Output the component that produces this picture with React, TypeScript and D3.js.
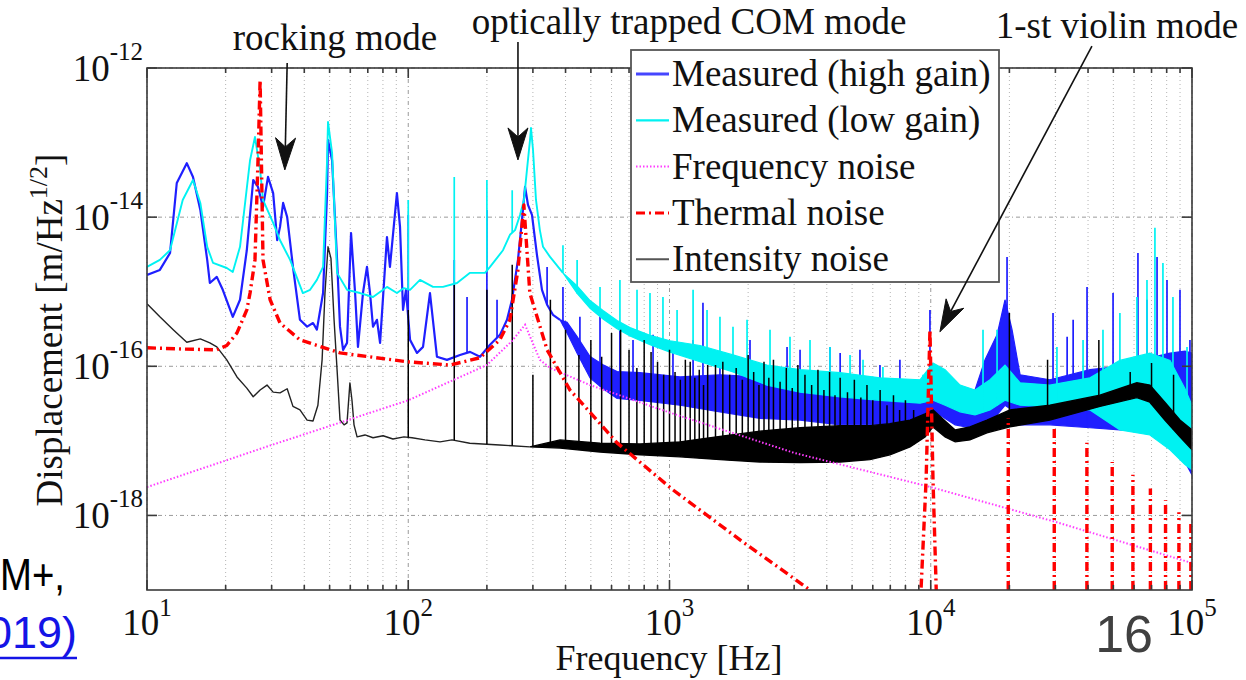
import React from "react";
import * as d3 from "d3";

type Pt = [number, number]; // [frequency Hz, displacement m/√Hz]
type Band = [number, number, number]; // [frequency Hz, lower, upper]
type Spike = [number, number]; // [frequency Hz, peak displacement]

// Axis ticks
const xTickExponents = [1, 2, 3, 4, 5];
const yTickExponents = [-12, -14, -16, -18];

const legendLabels = [
  "Measured (high gain)",
  "Measured (low gain)",
  "Frequency noise",
  "Thermal noise",
  "Intensity noise",
];

// Measured spectrum, high-gain readout
const highGainLine: Pt[] = [
  [10, 1.68e-15], [11.2, 1.96e-15], [12.25, 3.3e-15], [13, 2.87e-14], [14.2, 5.3e-14],
  [15, 3.46e-14], [16, 1.25e-14], [17, 2.67e-15], [17.4, 1.31e-15], [18.5, 1.58e-15],
  [19.5, 1.06e-15], [21.3, 4.6e-16], [22.7, 7.8e-16], [24.1, 3.6e-15], [25.5, 3.15e-14],
  [26.6, 2.54e-14], [27.8, 1.37e-14], [29.05, 3.46e-14], [30.4, 2.1e-14], [31.5, 4.9e-15],
  [32.3, 7.4e-15], [33.2, 1.55e-14], [34.4, 1.0e-14], [36.2, 2.15e-15], [38.5, 4.2e-16],
  [41, 3.4e-16], [43.2, 3.8e-16], [44.7, 3.1e-16], [47.2, 9.6e-16], [48.9, 2.1e-14],
  [49.3, 1.08e-13], [51.1, 5.8e-14], [53.4, 2.67e-15], [54.8, 3.4e-16], [56.3, 1.66e-16],
  [58.3, 2.06e-16], [60.4, 6.1e-15], [62.6, 9.6e-16], [64.2, 1.82e-16], [67.1, 9.6e-16],
  [69.5, 2.15e-15], [71.4, 9.6e-16], [73.3, 3.4e-16], [75.9, 4.2e-16], [78, 2.06e-16],
  [82.9, 5.4e-15], [85.1, 2.15e-15], [90.5, 2.1e-14], [93, 7.4e-15], [95.5, 5.7e-16],
  [98, 1.06e-15], [101.6, 2.26e-16], [108, 1.51e-16], [113.9, 1.82e-16], [121.1, 9.6e-16],
  [128.8, 1.34e-16], [140.7, 1.22e-16], [157.8, 1.42e-16], [172.4, 1.56e-16], [188.2, 1.34e-16],
  [205.6, 1.94e-16], [224.4, 2.64e-16], [238.8, 4.2e-16], [249.5, 7.8e-16], [263, 2.67e-15],
  [272.5, 9.2e-15], [280, 2.54e-14], [287.3, 1.46e-14], [297.6, 1.07e-14], [311, 3.1e-15],
  [325, 1.06e-15], [340, 6.7e-16], [358, 4.9e-16], [381, 4.2e-16],
];
const highGainBand: Band[] = [
  [381, 4.2e-16, 4.2e-16], [405.5, 2.8e-16, 3.9e-16], [443, 1.5e-16, 2.5e-16],
  [496.5, 7.0e-17, 1.35e-16], [556.6, 5.0e-17, 1.05e-16], [630, 3.7e-17, 8.5e-17],
  [771, 3.5e-17, 8.2e-17], [1097, 3.0e-17, 7.2e-17], [1560, 2.45e-17, 7.7e-17],
  [2220, 2.0e-17, 7.2e-17], [3160, 1.9e-17, 6.6e-17], [4500, 1.64e-17, 6.0e-17],
  [6390, 1.64e-17, 5.6e-17], [9100, 1.9e-17, 5.3e-17], [10380, 2.45e-17, 4.5e-17],
  [11350, 2.0e-17, 4.1e-17], [12400, 1.64e-17, 3.5e-17], [14130, 1.5e-17, 3.0e-17],
  [16140, 1.64e-17, 1.22e-16], [17940, 2.23e-17, 2.64e-16], [19240, 3.0e-17, 7.8e-16],
  [20470, 2.6e-17, 3.1e-16], [21980, 1.64e-17, 7.7e-17], [28580, 1.64e-17, 6.6e-17],
  [40700, 1.5e-17, 9.0e-17], [52970, 1.4e-17, 1.0e-16], [69000, 1.32e-17, 1.3e-16],
  [82400, 1.03e-17, 1.5e-16], [94000, 5.2e-18, 1.6e-16], [100000, 3.5e-18, 1.5e-16],
];
const highGainSpikes: Spike[] = [
  [100, 1.07e-14], [150, 2.67e-15], [167.9, 8.5e-16], [200, 1.25e-14], [218.7, 7.8e-16],
  [340, 2.15e-15], [391, 1.16e-15], [454, 4.6e-16], [542, 4.6e-16], [646, 3.1e-16],
  [725, 2.26e-16], [865, 2.64e-16], [1031, 1.51e-16], [1231, 2.26e-16], [1343, 7.1e-16],
  [1560, 1.22e-16], [2033, 2.26e-16], [2818, 1.82e-16], [3160, 1.66e-16], [4115, 1.82e-16],
  [4500, 1.51e-16], [5358, 1.66e-16], [6390, 1.04e-16], [7620, 1.22e-16], [9930, 5.7e-16],
  [19590, 2.93e-15], [29380, 5.2e-16], [33270, 2.48e-16], [35080, 4.2e-16], [39650, 1.16e-15],
  [49870, 9.6e-16], [62100, 3.3e-15], [67250, 7.8e-16], [73490, 2.93e-15], [80220, 1.44e-15],
  [89950, 1.06e-15], [98200, 2.26e-16],
];

// Measured spectrum, low-gain readout
const lowGainLine: Pt[] = [
  [10, 2.15e-15], [11.2, 2.67e-15], [12.25, 3.6e-15], [13.7, 1.7e-14], [15, 3.15e-14],
  [16, 1.55e-14], [17, 4.0e-15], [17.9, 2.43e-15], [20.2, 2.08e-15], [21.3, 1.84e-15],
  [22.7, 4.0e-15], [24.8, 5.8e-14], [25.9, 1.19e-13], [27.1, 4.3e-14], [27.8, 1.7e-14],
  [30.4, 8.4e-15], [32.3, 4.9e-15], [35.3, 2.67e-15], [39.5, 9.6e-16], [42.1, 1.06e-15],
  [44.7, 1.44e-15], [47.2, 2.15e-15], [48.9, 5.8e-14], [49.3, 1.89e-13], [51.1, 7.3e-14],
  [53.4, 1.79e-15], [58.3, 1.06e-15], [65.4, 9.6e-16], [73.3, 8.5e-16], [82.9, 1.16e-15],
  [90.5, 9.6e-16], [96.3, 1.12e-15], [101.6, 1.06e-15], [110.9, 1.44e-15], [124.4, 1.16e-15],
  [135.8, 1.16e-15], [153.7, 1.31e-15], [172.4, 1.79e-15], [196.7, 1.79e-15], [205.6, 2.15e-15],
  [230.5, 3.6e-15], [245, 5.8e-15], [256.3, 6.7e-15], [267.8, 1.07e-14], [277.3, 1.7e-14],
  [284.7, 4.3e-14], [292.4, 1.08e-13], [295, 1.57e-13], [300.3, 7.96e-14], [308.3, 1.7e-14],
  [319, 6.7e-15], [328, 4.0e-15], [349, 2.93e-15], [391, 1.79e-15],
];
const lowGainBand: Band[] = [
  [391, 1.79e-15, 1.79e-15], [443, 9.5e-16, 1.2e-15], [496.5, 6.0e-16, 7.6e-16],
  [556.6, 4.3e-16, 5.6e-16], [630, 3.2e-16, 4.1e-16], [706, 2.55e-16, 3.3e-16],
  [842, 1.95e-16, 2.6e-16], [1005, 1.55e-16, 2.2e-16], [1309, 1.15e-16, 1.9e-16],
  [1750, 8.4e-17, 1.42e-16], [2360, 5.6e-17, 1.04e-16], [3160, 4.5e-17, 9.0e-17],
  [4500, 3.9e-17, 8.2e-17], [6390, 3.5e-17, 7.0e-17], [9100, 3.2e-17, 6.6e-17],
  [10200, 3.5e-17, 1.11e-16], [11350, 3.0e-17, 9.0e-17], [12950, 2.45e-17, 5.6e-17],
  [14770, 2.23e-17, 4.8e-17], [16860, 2.6e-17, 6.6e-17], [19240, 3.5e-17, 1.04e-16],
  [21980, 3.0e-17, 6.0e-17], [28580, 2.86e-17, 5.6e-17], [40700, 2.6e-17, 7.0e-17],
  [52970, 1.4e-17, 1.2e-16], [69000, 1.2e-17, 1.5e-16], [82400, 7.6e-18, 1.2e-16],
  [94000, 4.8e-18, 5.0e-17], [100000, 4.1e-18, 3.0e-17],
];
const lowGainSpikes: Spike[] = [
  [100, 1.7e-14], [150, 3.46e-14], [200, 3.15e-14], [250, 2.3e-14], [391, 4.2e-15],
  [443, 2.67e-15], [542, 1.16e-15], [646, 1.44e-15], [751, 1.06e-15], [842, 9.6e-16],
  [944, 8.5e-16], [1069, 5.7e-16], [1231, 1.06e-15], [1392, 5.7e-16], [1560, 4.6e-16],
  [1750, 3.4e-16], [1981, 4.2e-16], [2425, 3.1e-16], [2892, 2.48e-16], [3450, 2.26e-16],
  [4115, 1.82e-16], [4910, 1.42e-16], [5505, 1.22e-16], [6560, 9.8e-17], [9340, 7.7e-17],
  [15850, 3.1e-16], [17940, 3.1e-16], [30410, 1.82e-16], [38280, 2.26e-16], [45630, 3.1e-16],
  [52970, 5.2e-16], [61540, 8.5e-16], [67250, 1.44e-15], [72130, 7.2e-15], [77400, 2.43e-15],
  [84540, 8.5e-16], [95700, 1.82e-16],
];

// Frequency noise estimate
const frequencyNoise: Pt[] = [
  [10, 2.4e-18], [30, 8.8e-18], [100, 3.5e-17], [200, 1.04e-16], [250, 2.2e-16],
  [280, 3.6e-16], [319, 1.22e-16], [349, 9.5e-17], [496, 5.6e-17], [1000, 2.4e-17],
  [3000, 6.9e-18], [10000, 2.4e-18], [30000, 8.2e-19], [100000, 2.3e-19],
];

// Thermal noise estimate: rocking resonance, optical spring peak, 1st violin mode
const thermalNoise: Pt[] = [
  [10, 1.77e-16], [14, 1.7e-16], [18.5, 1.66e-16], [20.2, 1.9e-16], [22.1, 2.8e-16],
  [24.1, 5.7e-16], [24.8, 9.6e-16], [25.9, 2.67e-15], [26.6, 5.8e-14], [27.1, 6.9e-13],
  [27.8, 2.67e-15], [29.6, 7.8e-16], [32.3, 3.8e-16], [38.5, 2.26e-16], [54.8, 1.51e-16],
  [98.9, 1.15e-16], [144.5, 1.04e-16], [188, 1.3e-16], [224, 2.26e-16], [245, 4.2e-16],
  [263, 1.96e-15], [277, 1.46e-14], [292, 9.6e-16], [340, 1.66e-16], [416, 4.8e-17],
  [528, 1.9e-17], [630, 9.4e-18], [1031, 2.2e-18], [1862, 4.7e-19], [3450, 1.0e-19],
  [5000, 2.5e-20], [8900, 1.0e-20], [9600, 3.0e-18], [9930, 3.1e-16], [10200, 3.0e-18],
  [10700, 1.0e-20], [100000, 1.0e-20],
];
// Higher violin harmonics
const violinHarmonics: Spike[] = [
  [19800, 2.0e-17], [29700, 1.6e-17], [39600, 9.4e-18], [49500, 5.2e-18], [59400, 3.5e-18],
  [69300, 2.3e-18], [79200, 1.6e-18], [89100, 1.1e-18], [99000, 8.5e-19],
];

// Intensity noise
const intensityLine: Pt[] = [
  [10, 6.9e-16], [11.2, 4.6e-16], [12.6, 3.1e-16], [14.2, 2.1e-16], [16, 2.33e-16],
  [17.4, 2.06e-16], [18.5, 1.82e-16], [20.2, 1.22e-16], [22.1, 7.2e-17], [24.1, 5.1e-17],
  [25.5, 3.9e-17], [27.1, 4.8e-17], [28.8, 5.6e-17], [30.4, 4.5e-17], [32.3, 4.4e-17],
  [34.4, 5.0e-17], [36.2, 2.9e-17], [38.5, 2.6e-17], [41, 1.9e-17], [43.2, 1.85e-17],
  [45.1, 3.0e-17], [46.8, 1.22e-16], [48, 9.6e-16], [49.3, 4.0e-15], [50.6, 2.8e-15],
  [52, 4.2e-16], [53.4, 9.0e-17], [54.8, 1.9e-17], [56.8, 1.64e-17], [58.3, 1.74e-17],
  [59.8, 6.0e-17], [60.9, 3.5e-17], [62, 1.64e-17], [63.7, 1.13e-17], [68.3, 1.2e-17],
  [73.3, 1.1e-17], [80.1, 1.17e-17], [87.4, 1.06e-17], [96.3, 1.13e-17], [103.4, 1.1e-17],
  [115.9, 1.03e-17], [132.3, 9.7e-18], [147, 1.03e-17], [172, 9.3e-18], [224, 8.8e-18],
  [292, 8.3e-18],
];
const intensityBand: Band[] = [
  [292, 8.3e-18, 8.3e-18], [381, 8.0e-18, 1.03e-17], [542, 7.1e-18, 9.3e-18],
  [771, 6.5e-18, 9.1e-18], [1097, 6.1e-18, 9.7e-18], [1560, 5.6e-18, 1.15e-17],
  [2220, 5.2e-18, 1.35e-17], [3160, 5.1e-18, 1.5e-17], [4500, 5.2e-18, 1.6e-17],
  [5850, 5.6e-18, 1.6e-17], [6980, 6.5e-18, 1.7e-17], [8330, 8.3e-18, 1.9e-17],
  [9510, 1.13e-17, 2.3e-17], [10200, 1.54e-17, 2.6e-17], [11350, 1.13e-17, 1.85e-17],
  [12400, 9.7e-18, 1.4e-17], [14130, 1.03e-17, 1.54e-17], [16410, 1.28e-17, 1.9e-17],
  [20090, 1.54e-17, 2.6e-17], [28580, 1.9e-17, 3.0e-17], [44430, 2.9e-17, 4.1e-17],
  [61500, 3.8e-17, 6.0e-17], [69000, 3.3e-17, 5.6e-17], [78700, 1.9e-17, 3.3e-17],
  [89900, 1.13e-17, 1.9e-17], [100000, 7.6e-18, 1.4e-17],
];
const intensitySpikes: Spike[] = [
  [100, 5.7e-16], [150, 1.23e-15], [200, 1.06e-15], [250, 2.3e-15], [300, 7.7e-17],
  [350, 7.8e-16], [400, 3.1e-16], [450, 1.42e-16], [500, 2.26e-16], [550, 1.34e-16],
  [600, 2.8e-16], [650, 3.1e-16], [700, 1.66e-16], [750, 9.5e-17], [800, 2.26e-16],
  [850, 1.56e-16], [900, 1.15e-16], [950, 7.7e-17], [1000, 1.66e-16], [1050, 8.4e-17],
  [1100, 6.6e-17], [1150, 1.22e-16], [1200, 1.15e-16], [1250, 7.0e-17], [1300, 9.0e-17],
  [1350, 5.6e-17], [1400, 1.04e-16], [1500, 1.04e-16], [1600, 1.15e-16], [1700, 7.7e-17],
  [1800, 9.5e-17], [1900, 6.6e-17], [2000, 1.42e-16], [2100, 8.4e-17], [2200, 5.6e-17],
  [2300, 1.15e-16], [2400, 7.0e-17], [2500, 1.22e-16], [2650, 6.2e-17], [2800, 9.5e-17],
  [2950, 5.1e-17], [3100, 1.04e-16], [3300, 7.7e-17], [3500, 5.6e-17], [3700, 9.0e-17],
  [3900, 4.8e-17], [4100, 8.4e-17], [4300, 4.1e-17], [4500, 7.0e-17], [4800, 4.5e-17],
  [5100, 6.6e-17], [5400, 3.8e-17], [5700, 5.6e-17], [6000, 3.5e-17], [6400, 4.8e-17],
  [6800, 3.0e-17], [7200, 4.1e-17], [7600, 2.6e-17], [8000, 3.5e-17], [8600, 2.6e-17],
  [20000, 5.2e-16], [28000, 1.22e-16], [44000, 2.26e-16], [58000, 8.4e-17], [70000, 1.11e-16],
  [85000, 7.7e-17],
];

// Annotation arrows: tail and head in data coordinates
const annotations = [
  { text: "rocking mode", from: [34.4, 1.17e-12] as Pt, to: [33.7, 4.3e-14] as Pt },
  { text: "optically trapped COM mode", from: [263, 2.23e-12] as Pt, to: [263, 5.85e-14] as Pt },
  { text: "1-st violin mode", from: [41400, 1.97e-12] as Pt, to: [10840, 2.9e-16] as Pt },
];

const SERIF = "'Liberation Serif', 'Times New Roman', Times, serif";
const SANS = "'Liberation Sans', Arial, Helvetica, sans-serif";

const COLORS = {
  high: "#1f1fff",
  low: "#00f2f2",
  freq: "#ff3cff",
  thermal: "#ff0000",
  intensity: "#000000",
};

function logInterp(pts: Pt[], f: number): number {
  const i = d3.bisector((d: Pt) => d[0]).right(pts, f);
  if (i <= 0) return pts[0][1];
  if (i >= pts.length) return pts[pts.length - 1][1];
  const [f0, v0] = pts[i - 1];
  const [f1, v1] = pts[i];
  const t = (Math.log(f) - Math.log(f0)) / (Math.log(f1) - Math.log(f0));
  return Math.exp(Math.log(v0) + t * (Math.log(v1) - Math.log(v0)));
}

function floorOf(line: Pt[], band: Band[]): Pt[] {
  return [
    ...line.filter((p) => p[0] < band[0][0]),
    ...band.map((b) => [b[0], b[1]] as Pt),
  ];
}

export default function App() {
  const left = 147, right = 1192, top = 68, bottom = 590;
  const x = d3.scaleLog().domain([10, 1e5]).range([left, right]);
  const y = d3.scaleLog().domain([1e-19, 1e-12]).range([bottom, top]);

  const lineGen = d3.line<Pt>().x((d) => x(d[0])).y((d) => y(d[1]));
  const areaGen = d3
    .area<Band>()
    .x((d) => x(d[0]))
    .y0((d) => y(d[1]))
    .y1((d) => y(d[2]));

  const spikePath = (spikes: Spike[], floor: Pt[]) =>
    spikes
      .map(([f, v]) => `M${x(f)},${y(logInterp(floor, f))}L${x(f)},${y(v)}`)
      .join("");

  const xTicks = x.ticks();
  const isMajorX = (t: number) => Math.abs(Math.log10(t) - Math.round(Math.log10(t))) < 1e-9;

  const series = [
    { line: highGainLine, band: highGainBand, spikes: highGainSpikes, color: COLORS.high, w: 2.2 },
    { line: lowGainLine, band: lowGainBand, spikes: lowGainSpikes, color: COLORS.low, w: 1.9 },
  ];

  const arrowHead = (from: Pt, to: Pt) => {
    const x1 = x(from[0]), y1 = y(from[1]), x2 = x(to[0]), y2 = y(to[1]);
    const ang = Math.atan2(y2 - y1, x2 - x1);
    const L = 32, Wd = 10, notch = 9;
    const ux = Math.cos(ang), uy = Math.sin(ang);
    const px = -uy, py = ux;
    const bx = x2 - ux * L, by = y2 - uy * L;
    const nx = x2 - ux * (L - notch), ny = y2 - uy * (L - notch);
    return {
      shaft: `M${x1},${y1}L${nx},${ny}`,
      head: `M${x2},${y2}L${bx + px * Wd},${by + py * Wd}L${nx},${ny}L${bx - px * Wd},${by - py * Wd}Z`,
    };
  };

  const legendX = 631, legendY = 50, legendW = 368, legendH = 232;
  const legendRow = (i: number) => 74 + i * 46.3;

  const legendSample = (i: number, y0: number) => {
    const x1 = 636, x2 = 669;
    if (i === 0) return <line x1={x1} x2={x2} y1={y0} y2={y0} stroke="#4646ff" strokeWidth={3} />;
    if (i === 1) return <line x1={x1} x2={x2} y1={y0} y2={y0} stroke={COLORS.low} strokeWidth={2.2} />;
    if (i === 2)
      return <line x1={x1} x2={x2} y1={y0} y2={y0} stroke={COLORS.freq} strokeWidth={2} strokeDasharray="1.5,2" />;
    if (i === 3)
      return <line x1={x1} x2={x2} y1={y0} y2={y0} stroke={COLORS.thermal} strokeWidth={3} strokeDasharray="9,4,2,4" />;
    return <line x1={x1} x2={x2} y1={y0} y2={y0} stroke="#555" strokeWidth={2} />;
  };

  return (
    <svg
      width={1246}
      height={680}
      viewBox="0 0 1246 680"
      style={{ position: "absolute", left: 0, top: 0, background: "#fff" }}
    >
      <defs>
        <clipPath id="plotArea">
          <rect x={left} y={top} width={right - left} height={bottom - top} />
        </clipPath>
      </defs>
      <rect x={0} y={0} width={1246} height={680} fill="#fff" />

      {/* grid */}
      <g>
        {xTicks.map((t, i) => (
          <line
            key={`gx${i}`}
            x1={x(t)}
            x2={x(t)}
            y1={top}
            y2={bottom}
            stroke={isMajorX(t) ? "#9a9a9a" : "#b4b4b4"}
            strokeWidth={1}
            strokeDasharray={isMajorX(t) ? "4,3,1,3" : "1,3"}
          />
        ))}
        {yTickExponents.map((e) => (
          <line
            key={`gy${e}`}
            x1={left}
            x2={right}
            y1={y(Math.pow(10, e))}
            y2={y(Math.pow(10, e))}
            stroke="#9a9a9a"
            strokeWidth={1}
            strokeDasharray="4,3,1,3"
          />
        ))}
      </g>

      <g clipPath="url(#plotArea)">
        {/* measured spectra */}
        {series.map((s, i) => (
          <g key={`s${i}`}>
            <path d={areaGen(s.band) || ""} fill={s.color} stroke={s.color} strokeWidth={1.2} />
            <path d={lineGen(s.line) || ""} fill="none" stroke={s.color} strokeWidth={s.w} strokeLinejoin="round" />
            <path
              d={spikePath(s.spikes, floorOf(s.line, s.band))}
              fill="none"
              stroke={s.color}
              strokeWidth={1.7}
            />
          </g>
        ))}

        {/* intensity noise */}
        <path d={areaGen(intensityBand) || ""} fill={COLORS.intensity} stroke={COLORS.intensity} strokeWidth={1.4} />
        <path
          d={lineGen(intensityLine) || ""}
          fill="none"
          stroke="#222"
          strokeWidth={1.4}
          strokeLinejoin="round"
        />
        <path
          d={spikePath(intensitySpikes, floorOf(intensityLine, intensityBand))}
          fill="none"
          stroke={COLORS.intensity}
          strokeWidth={1.5}
        />

        {/* frequency noise */}
        <path
          d={lineGen(frequencyNoise) || ""}
          fill="none"
          stroke={COLORS.freq}
          strokeWidth={2}
          strokeDasharray="1.5,2"
        />

        {/* thermal noise */}
        <path
          d={lineGen(thermalNoise) || ""}
          fill="none"
          stroke={COLORS.thermal}
          strokeWidth={3.4}
          strokeDasharray="9,4,2,4"
          strokeLinejoin="round"
        />
        <path
          d={violinHarmonics.map(([f, v]) => `M${x(f)},${bottom}L${x(f)},${y(v)}`).join("")}
          fill="none"
          stroke={COLORS.thermal}
          strokeWidth={3.4}
          strokeDasharray="9,4,2,4"
        />
      </g>

      {/* axes box and ticks */}
      <g stroke="#3a3a3a" strokeWidth={1.6}>
        <rect x={left} y={top} width={right - left} height={bottom - top} fill="none" />
        {xTicks.map((t, i) => {
          const len = isMajorX(t) ? 10 : 5;
          return (
            <g key={`tx${i}`}>
              <line x1={x(t)} x2={x(t)} y1={bottom} y2={bottom - len} />
              <line x1={x(t)} x2={x(t)} y1={top} y2={top + len} />
            </g>
          );
        })}
        {yTickExponents.map((e) => (
          <g key={`ty${e}`}>
            <line x1={left} x2={left + 10} y1={y(Math.pow(10, e))} y2={y(Math.pow(10, e))} />
            <line x1={right} x2={right - 10} y1={y(Math.pow(10, e))} y2={y(Math.pow(10, e))} />
          </g>
        ))}
      </g>

      {/* tick labels */}
      <g fontFamily={SERIF} fill="#111">
        {xTickExponents.map((e) => (
          <text key={`lx${e}`} x={x(Math.pow(10, e))} y={635} textAnchor="middle" fontSize={37}>
            <tspan>10</tspan>
            <tspan dy={-19} fontSize={25}>
              {e}
            </tspan>
          </text>
        ))}
        {yTickExponents.map((e) => (
          <text key={`ly${e}`} x={143} y={y(Math.pow(10, e)) + 13} textAnchor="end" fontSize={37}>
            <tspan>10</tspan>
            <tspan dy={-21} fontSize={25}>
              {`-${Math.abs(e)}`}
            </tspan>
          </text>
        ))}
      </g>

      {/* axis titles */}
      <text x={669} y={670} textAnchor="middle" fontFamily={SERIF} fontSize={36} fill="#111">
        Frequency [Hz]
      </text>
      <text
        transform="translate(62,330) rotate(-90)"
        textAnchor="middle"
        fontFamily={SERIF}
        fontSize={37}
        fill="#111"
      >
        <tspan>Displacement [m/Hz</tspan>
        <tspan dy={-15} fontSize={26}>
          1/2
        </tspan>
        <tspan dy={15}>]</tspan>
      </text>

      {/* legend */}
      <g>
        <rect
          x={legendX}
          y={legendY}
          width={legendW}
          height={legendH}
          fill="#fff"
          stroke="#555"
          strokeWidth={1.8}
        />
        {legendLabels.map((label, i) => (
          <g key={`lg${i}`}>
            {legendSample(i, legendRow(i))}
            <text x={672} y={legendRow(i) + 12} fontFamily={SERIF} fontSize={37} fill="#111">
              {label}
            </text>
          </g>
        ))}
      </g>

      {/* annotations */}
      <g fontFamily={SERIF} fontSize={37} fill="#111">
        <text x={335} y={50} textAnchor="middle">
          {annotations[0].text}
        </text>
        <text x={689} y={34} textAnchor="middle">
          {annotations[1].text}
        </text>
        <text x={1117} y={38} textAnchor="middle">
          {annotations[2].text}
        </text>
      </g>
      {annotations.map((a, i) => {
        const ah = arrowHead(a.from, a.to);
        return (
          <g key={`ar${i}`}>
            <path d={ah.shaft} stroke="#111" strokeWidth={1.6} fill="none" />
            <path d={ah.head} fill="#111" stroke="#111" strokeWidth={1} strokeLinejoin="miter" />
          </g>
        );
      })}

      {/* slide text around the figure */}
      <text
        x={0}
        y={590}
        fontFamily={SANS}
        fontSize={44}
        fill="#000"
        textLength={65}
        lengthAdjust="spacingAndGlyphs"
      >
        M+,
      </text>
      <text x={77} y={648} textAnchor="end" fontFamily={SANS} fontSize={45} fill="#1414e6">
        019)
      </text>
      <line x1={0} x2={77} y1={658} y2={658} stroke="#1414e6" strokeWidth={2.5} />
      <text x={1153} y={652} textAnchor="end" fontFamily={SANS} fontSize={52} fill="#404040">
        16
      </text>
    </svg>
  );
}
